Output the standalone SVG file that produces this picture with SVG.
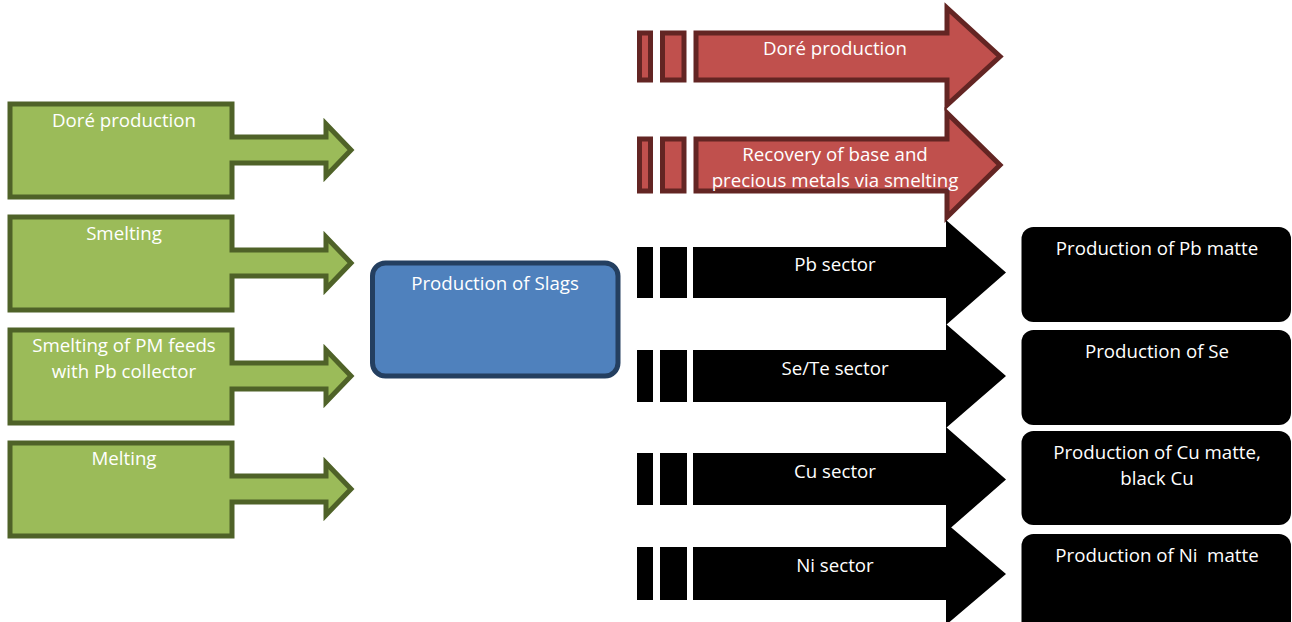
<svg xmlns="http://www.w3.org/2000/svg" width="1292" height="622" viewBox="0 0 1292 622">
<style>
.t{font-family:"Open Sans","Liberation Sans",sans-serif;font-size:18.7px;fill:#ffffff;text-anchor:middle}
.g{fill:#9BBB59;stroke:#4F6228;stroke-width:5}
.r{fill:#C0504D;stroke:#632523;stroke-width:5}
.b{fill:#4F81BD;stroke:#243F60;stroke-width:5}
.k{fill:#000000}
</style>
<rect width="1292" height="622" fill="#ffffff"/>
<g id="in-dore">
<path class="g" d="M10,104 H232 V137 H326 V124 L351,150 L326,176 V163 H232 V197 H10 Z"/>
<text class="t" x="124" y="127">Doré production</text>
</g>
<g id="in-smelting">
<path class="g" d="M10,217 H232 V250 H326 V237 L351,263 L326,289 V276 H232 V310 H10 Z"/>
<text class="t" x="124" y="240">Smelting</text>
</g>
<g id="in-pm">
<path class="g" d="M10,330 H232 V363 H326 V350 L351,376 L326,402 V389 H232 V423 H10 Z"/>
<text class="t" x="124" y="352">Smelting of PM feeds</text>
<text class="t" x="124" y="378">with Pb collector</text>
</g>
<g id="in-melting">
<path class="g" d="M10,443 H232 V476 H326 V463 L351,489 L326,515 V502 H232 V536 H10 Z"/>
<text class="t" x="124" y="465">Melting</text>
</g>
<g id="slags">
<rect class="b" x="372.5" y="263" width="245.5" height="113" rx="13"/>
<text class="t" x="495" y="290">Production of Slags</text>
</g>
<g id="out-dore">
<rect class="r" x="639.5" y="33" width="11" height="47"/>
<rect class="r" x="662.5" y="33" width="21.5" height="47"/>
<path class="r" d="M696,33 H947 V8 L1000,56.5 L947,105 V80 H696 Z"/>
<text class="t" x="835" y="55">Doré production</text>
</g>
<g id="out-recovery">
<rect class="r" x="639.5" y="139" width="11" height="52"/>
<rect class="r" x="662.5" y="139" width="21.5" height="52"/>
<path class="r" d="M696,139 H947 V113 L1000,165 L947,217 V191 H696 Z"/>
<text class="t" x="835" y="161">Recovery of base and</text>
<text class="t" x="835" y="187">precious metals via smelting</text>
</g>
<g id="pb-sector">
<rect class="k" x="637" y="247" width="16" height="51"/>
<rect class="k" x="660" y="247" width="27" height="51"/>
<path class="k" d="M693,247 H946 V220 L1006,272.5 L946,325 V298 H693 Z"/>
<text class="t" x="835" y="271">Pb sector</text>
</g>
<g id="sete-sector">
<rect class="k" x="637" y="350" width="16" height="52"/>
<rect class="k" x="660" y="350" width="27" height="52"/>
<path class="k" d="M693,350 H946 V324 L1006,376 L946,428 V402 H693 Z"/>
<text class="t" x="835" y="375">Se/Te sector</text>
</g>
<g id="cu-sector">
<rect class="k" x="637" y="453" width="16" height="52"/>
<rect class="k" x="660" y="453" width="27" height="52"/>
<path class="k" d="M693,453 H946 V427 L1006,479.5 L946,532 V505 H693 Z"/>
<text class="t" x="835" y="478">Cu sector</text>
</g>
<g id="ni-sector">
<rect class="k" x="637" y="547" width="16" height="53"/>
<rect class="k" x="660" y="547" width="27" height="53"/>
<path class="k" d="M693,547 H946 V523 L1006,574 L946,625 V600 H693 Z"/>
<text class="t" x="835" y="572">Ni sector</text>
</g>
<g id="pb-matte">
<rect class="k" x="1021.5" y="227" width="269.5" height="95" rx="12"/>
<text class="t" x="1157" y="255">Production of Pb matte</text>
</g>
<g id="se-prod">
<rect class="k" x="1021.5" y="330" width="269.5" height="95" rx="12"/>
<text class="t" x="1157" y="358">Production of Se</text>
</g>
<g id="cu-matte">
<rect class="k" x="1021.5" y="431" width="269.5" height="94" rx="12"/>
<text class="t" x="1157" y="459">Production of Cu matte,</text>
<text class="t" x="1157" y="485">black Cu</text>
</g>
<g id="ni-matte">
<rect class="k" x="1021.5" y="534" width="269.5" height="110" rx="12"/>
<text class="t" x="1157" y="562" xml:space="preserve">Production of Ni  matte</text>
</g>
<g id="connectors"></g>
</svg>
